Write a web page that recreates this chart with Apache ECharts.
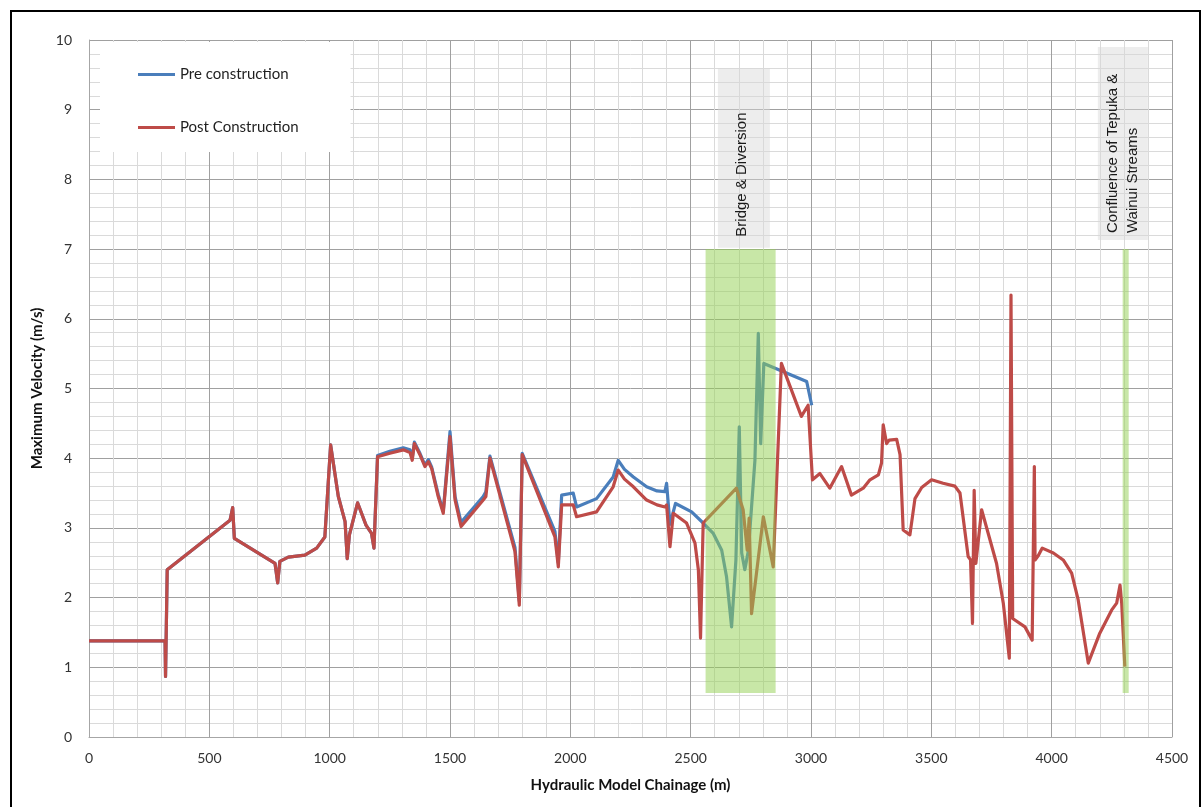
<!DOCTYPE html>
<html>
<head>
<meta charset="utf-8">
<script src="https://cdn.jsdelivr.net/npm/echarts@6/dist/echarts.min.js"></script>
<style>
html,body{margin:0;padding:0;background:#fff;}
#chart{width:1203px;height:807px;}
</style>
</head>
<body>
<div id="chart"></div>
<script>
// ---- data (chainage in m, velocity in m/s) ----
var preChainage = [0,316,318,325,586,597,604,773,784,793,828,897,946,980,1004,1036,1064,1073,1082,1116,1151,1174,1184,1199,1250,1306,1334,1343,1352,1375,1396,1410,1424,1451,1472,1500,1521,1546,1638,1649,1666,1770,1788,1800,1936,1950,1964,2012,2026,2109,2178,2199,2225,2262,2317,2360,2393,2400,2414,2437,2504,2552,2594,2629,2649,2670,2688,2702,2712,2725,2740,2767,2781,2791,2804,2982,3003];
var preVelocity = [1.38,1.38,0.87,2.40,3.11,3.29,2.85,2.49,2.21,2.52,2.58,2.61,2.71,2.87,4.19,3.45,3.09,2.56,2.90,3.36,3.04,2.92,2.71,4.04,4.10,4.15,4.12,4.00,4.23,4.07,3.90,3.98,3.87,3.48,3.24,4.38,3.45,3.08,3.45,3.52,4.03,2.72,1.95,4.07,2.95,2.50,3.47,3.50,3.30,3.42,3.73,3.97,3.84,3.73,3.59,3.53,3.52,3.64,3.05,3.35,3.23,3.07,2.92,2.68,2.30,1.58,2.54,4.45,2.64,2.40,2.68,3.97,5.79,4.21,5.36,5.10,4.76];

var postChainage = [0,316,318,325,586,597,604,773,784,793,828,897,946,980,1004,1036,1064,1073,1082,1116,1151,1174,1184,1199,1250,1306,1334,1343,1352,1375,1396,1410,1424,1451,1472,1500,1521,1546,1638,1649,1666,1770,1788,1800,1936,1950,1964,2012,2026,2109,2178,2199,2225,2262,2317,2360,2393,2400,2414,2428,2483,2518,2532,2541,2552,2690,2718,2735,2743,2753,2802,2843,2877,2960,2988,3006,3037,3078,3127,3168,3217,3245,3280,3293,3300,3314,3325,3356,3370,3383,3411,3432,3460,3501,3549,3598,3619,3653,3663,3671,3678,3685,3709,3771,3799,3824,3831,3838,3889,3919,3928,3931,3944,3961,4007,4048,4083,4110,4152,4200,4249,4270,4284,4291,4304];
var postVelocity = [1.38,1.38,0.87,2.40,3.11,3.29,2.85,2.49,2.21,2.52,2.58,2.61,2.71,2.87,4.19,3.45,3.09,2.56,2.90,3.36,3.04,2.92,2.71,4.02,4.07,4.12,4.08,3.97,4.21,4.05,3.88,3.95,3.85,3.45,3.21,4.31,3.40,3.02,3.40,3.45,4.00,2.66,1.89,4.05,2.87,2.44,3.33,3.33,3.16,3.23,3.59,3.83,3.70,3.59,3.40,3.33,3.30,3.33,2.73,3.21,3.07,2.78,2.40,1.42,3.07,3.57,3.26,2.68,3.14,1.77,3.16,2.44,5.36,4.60,4.76,3.69,3.78,3.57,3.88,3.47,3.57,3.69,3.76,3.93,4.48,4.21,4.26,4.27,4.05,2.97,2.90,3.42,3.58,3.69,3.64,3.60,3.50,2.59,2.54,1.63,3.54,2.49,3.26,2.49,1.92,1.13,6.34,1.70,1.58,1.39,3.88,2.54,2.60,2.71,2.64,2.54,2.35,1.97,1.06,1.49,1.82,1.92,2.18,1.92,1.01];

var seriesNames = ['Pre construction', 'Post Construction'];
var xTicks = [0,500,1000,1500,2000,2500,3000,3500,4000,4500];
var yTicks = [0,1,2,3,4,5,6,7,8,9,10];

// annotation zones: [xStart, xEnd, yBottom, yTop]
var bridgeZone = [2562, 2853, 0.63, 7];
var confluenceZone = [4295, 4320, 0.63, 7];
var bridgeLabelBox = [2613, 2829, 7.02, 9.6];
var confluenceLabelBox = [4192, 4400, 7.13, 9.9];
var bridgeText = 'Bridge & Diversion';
var confluenceText = ['Confluence of Tepuka &', 'Wainui Streams'];

function pairs(xs, ys){ var out=[]; for(var i=0;i<xs.length;i++){out.push([xs[i], ys[i]]);} return out; }

function rectRenderer(fill){
  return function(params, api){
    var p0 = api.coord([api.value(0), api.value(3)]);
    var p1 = api.coord([api.value(1), api.value(2)]);
    return {type: 'rect', shape: {x: p0[0], y: p0[1], width: p1[0]-p0[0], height: p1[1]-p0[1]},
      style: {fill: fill}, silent: true};
  };
}

var chart = echarts.init(document.getElementById('chart'), null, {renderer:'canvas'});
var labelFont = 'Lato, "Open Sans", sans-serif';

var option = {
  backgroundColor: '#ffffff',
  animation: false,
  grid: {left: 89, right: 31, top: 40, bottom: 70, containLabel: false},
  legend: {
    data: seriesNames,
    orient: 'vertical',
    left: 100, top: 42,
    backgroundColor: '#ffffff',
    padding: [25, 52, 17, 38],
    itemGap: 38,
    itemWidth: 37, itemHeight: 3,
    icon: 'rect',
    textStyle: {fontFamily: labelFont, fontSize: 15, color: '#1f1f1f', padding: [0,0,0,0]}
  },
  xAxis: {
    type: 'value', min: 0, max: 4500, interval: 500,
    name: 'Hydraulic Model Chainage (m)', nameLocation: 'middle', nameGap: 41,
    nameTextStyle: {fontFamily: labelFont, fontSize: 15, fontWeight: 'bold', color: '#111111'},
    axisLine: {show: true, onZero: false, lineStyle: {color: '#a6a6a6', width: 1}},
    axisTick: {show: false},
    axisLabel: {fontFamily: labelFont, fontSize: 14, color: '#333333', margin: 14,
      formatter: function(v){ return xTicks.indexOf(v) >= 0 ? String(v) : ''; }},
    splitLine: {show: true, lineStyle: {color: '#a0a0a0', width: 1}},
    minorTick: {show: false, splitNumber: 5},
    minorSplitLine: {show: true, lineStyle: {color: '#dadada', width: 1}}
  },
  yAxis: {
    type: 'value', min: 0, max: 10, interval: 1,
    name: 'Maximum Velocity (m/s)', nameLocation: 'middle', nameGap: 43, nameRotate: 90,
    nameTextStyle: {fontFamily: labelFont, fontSize: 15, fontWeight: 'bold', color: '#111111'},
    axisLine: {show: true, lineStyle: {color: '#a6a6a6', width: 1}},
    axisTick: {show: false},
    axisLabel: {fontFamily: labelFont, fontSize: 14, color: '#333333', margin: 17,
      formatter: function(v){ return yTicks.indexOf(v) >= 0 ? String(v) : ''; }},
    splitLine: {show: true, lineStyle: {color: '#a0a0a0', width: 1}},
    minorTick: {show: false, splitNumber: 5},
    minorSplitLine: {show: true, lineStyle: {color: '#dadada', width: 1}}
  },
  series: [
    {
      name: 'labelBoxes', type: 'custom', silent: true, z: 1, clip: false,
      renderItem: rectRenderer('rgba(215,215,215,0.45)'),
      data: [bridgeLabelBox, confluenceLabelBox]
    },
    {
      name: seriesNames[0], type: 'line', data: pairs(preChainage, preVelocity),
      showSymbol: false, symbol: 'none', z: 3,
      lineStyle: {color: '#4a7ebb', width: 3.2, join: 'round'}, itemStyle: {color: '#4a7ebb'}
    },
    {
      name: seriesNames[1], type: 'line', data: pairs(postChainage, postVelocity),
      showSymbol: false, symbol: 'none', z: 4,
      lineStyle: {color: '#be4b48', width: 3.2, join: 'round'}, itemStyle: {color: '#be4b48'}
    },
    {
      name: 'zones', type: 'custom', silent: true, z: 10, clip: false,
      renderItem: rectRenderer('rgba(146,208,80,0.5)'),
      data: [bridgeZone, confluenceZone]
    }
  ]
};
chart.setOption(option);

// annotation texts positioned through the chart's own scales
function px(x, y){ return chart.convertToPixel({gridIndex: 0}, [x, y]); }
var bBot = px((bridgeLabelBox[0]+bridgeLabelBox[1])/2, bridgeLabelBox[2]);
var cBot = px((confluenceLabelBox[0]+confluenceLabelBox[1])/2, confluenceLabelBox[2]);
var textFont = '15px "Liberation Sans", Arial, sans-serif';
chart.setOption({
  graphic: [
    {type: 'text', x: bBot[0] - 2, y: bBot[1] - 11, rotation: Math.PI/2, z: 100,
      style: {text: bridgeText, font: textFont, fill: '#1a1a1a', align: 'left', verticalAlign: 'middle'}},
    {type: 'text', x: cBot[0] - 10, y: cBot[1] - 7, rotation: Math.PI/2, z: 100,
      style: {text: confluenceText[0], font: textFont, fill: '#1a1a1a', align: 'left', verticalAlign: 'middle'}},
    {type: 'text', x: cBot[0] + 10, y: cBot[1] - 7, rotation: Math.PI/2, z: 100,
      style: {text: confluenceText[1], font: textFont, fill: '#1a1a1a', align: 'left', verticalAlign: 'middle'}},
    {type: 'rect', shape: {x: 11, y: 11, width: 1189, height: 830}, z: 100, silent: true,
      style: {fill: 'none', stroke: '#000000', lineWidth: 2}}
  ]
});
</script>
</body>
</html>
